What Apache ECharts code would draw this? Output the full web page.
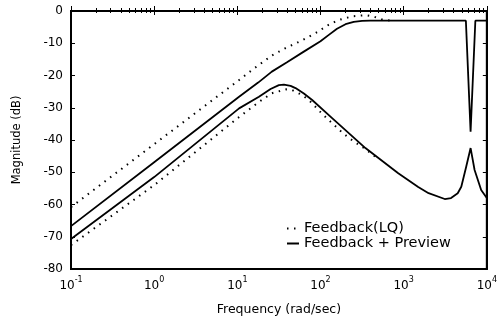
<!DOCTYPE html>
<html>
<head>
<meta charset="utf-8">
<script src="https://cdn.jsdelivr.net/npm/echarts@6/dist/echarts.min.js"></script>
<style>
  html, body { margin: 0; padding: 0; background: #fff; }
  #chart { width: 500px; height: 323px; }
</style>
</head>
<body>
<div id="chart"></div>
<script>
// frequencies in rad/sec, magnitudes in dB
const FREQ_LQ_UPPER = [0.1, 1, 10.5, 15, 26, 38, 58, 88, 125, 165, 200, 250, 355, 445, 560, 710];
const DB_LQ_UPPER = [-60.8, -41.3, -21.4, -18.3, -13.8, -11.5, -9.3, -6.8, -4.3, -2.8, -2.2, -1.6, -1.3, -1.8, -2.7, -3.0];

const FREQ_PV_UPPER = [0.1, 1, 10.5, 17.8, 26, 40, 63, 100, 126, 158, 200, 251, 316, 398, 5600, 6380, 7280, 10000];
const DB_PV_UPPER = [-66.7, -46.9, -26.6, -22.2, -18.8, -15.8, -12.6, -9.4, -7.4, -5.5, -4.1, -3.4, -3.05, -3.0, -3.0, -37.4, -3.0, -3.0];

const FREQ_PV_LOWER = [0.1, 1, 10.5, 18.2, 25.1, 31.6, 36.3, 43.7, 50.1, 63.1, 79.4, 138, 347, 861, 1496, 1995,
  3119, 3715, 4467, 4932, 5649, 6383, 7129, 8551, 10000];
const DB_PV_LOWER = [-70.7, -51.5, -30.2, -26.6, -24.2, -23.0, -22.8, -23.2, -23.9, -25.6, -27.6, -33.2, -42.5, -50.3, -54.6, -56.5,
  -58.3, -58.0, -56.5, -54.5, -48.3, -42.5, -49.3, -55.5, -58.0];

const FREQ_LQ_LOWER = [0.1, 1, 10, 18.2, 26, 38.4, 45.3, 59.6, 72.4, 103, 125, 151, 184, 229, 279, 347, 501];
const DB_LQ_LOWER = [-72.6, -54.0, -33.3, -28.2, -25.5, -24.3, -24.5, -26.0, -27.6, -31.7, -33.8, -35.7, -37.8, -39.7, -41.2, -42.8, -46.0];

const Y_TICKS = [-80, -70, -60, -50, -40, -30, -20, -10, 0];
const NAME_LQ = 'Feedback(LQ)';
const NAME_PV = 'Feedback + Preview';

const FONT = "'DejaVu Sans', 'Liberation Sans', Arial, sans-serif";

const zip = (xs, ys) => xs.map((x, i) => [x, ys[i]]);

// minor tick positions 2..9 in each decade
const minorTicks = [];
for (let d = -1; d < 4; d++) {
  for (let k = 2; k <= 9; k++) minorTicks.push(k * Math.pow(10, d));
}

const chart = echarts.init(document.getElementById('chart'), null, { renderer: 'canvas' });

const dotted = { color: '#000', width: 2, type: [1.5, 5.5], cap: 'butt' };
const solid = { color: '#000', width: 1.8, type: 'solid' };

const logAxis = (extra) => Object.assign({
  type: 'log',
  logBase: 10,
  min: 0.1,
  max: 10000,
  gridIndex: 0,
  splitLine: { show: false },
  axisLine: { show: true, lineStyle: { color: '#000', width: 2 } }
}, extra);

const option = {
  backgroundColor: '#fff',
  animation: false,
  grid: {
    left: 71, right: 11, top: 11, bottom: 54,
    show: true, borderColor: '#000', borderWidth: 2, backgroundColor: 'transparent'
  },
  legend: {
    orient: 'vertical',
    left: 281,
    top: 216,
    itemWidth: 12,
    itemHeight: 10,
    itemGap: 0,
    data: [NAME_LQ, NAME_PV],
    // hide the round marker, keep only the line sample
    itemStyle: { color: 'rgba(0,0,0,0)', borderColor: 'rgba(0,0,0,0)', borderWidth: 0, opacity: 0 },
    textStyle: { color: '#000', fontSize: 14.5, fontFamily: FONT, lineHeight: 15 }
  },
  xAxis: [
    logAxis({
      position: 'bottom',
      name: 'Frequency (rad/sec)',
      nameLocation: 'middle',
      nameGap: 34,
      nameTextStyle: { color: '#000', fontSize: 12.5, fontFamily: FONT },
      axisTick: { show: true, inside: true, length: 5, lineStyle: { color: '#000' } },
      axisLabel: {
        show: true,
        margin: 7,
        showMinLabel: true,
        showMaxLabel: true,
        formatter: (v) => '{b|10}{s|' + Math.round(Math.log10(v)) + '}',
        rich: {
          b: { fontSize: 12, fontFamily: FONT, color: '#000', lineHeight: 16, verticalAlign: 'bottom' },
          s: { fontSize: 8, fontFamily: FONT, color: '#000', lineHeight: 6, verticalAlign: 'top' }
        }
      }
    }),
    logAxis({
      position: 'bottom',
      axisLine: { show: false },
      axisLabel: { show: false },
      axisTick: { show: true, inside: true, length: 3, customValues: minorTicks, lineStyle: { color: '#000' } }
    }),
    logAxis({
      position: 'top',
      axisLabel: { show: false },
      axisTick: { show: true, inside: true, length: 4, lineStyle: { color: '#000' } }
    }),
    logAxis({
      position: 'top',
      axisLine: { show: false },
      axisLabel: { show: false },
      axisTick: { show: true, inside: true, length: 2, customValues: minorTicks, lineStyle: { color: '#000' } }
    })
  ],
  yAxis: [
    {
      type: 'value',
      position: 'left',
      min: -80,
      max: 0,
      interval: 10,
      name: 'Magnitude (dB)',
      nameLocation: 'middle',
      nameRotate: 90,
      nameGap: 48,
      nameTextStyle: { color: '#000', fontSize: 11.5, fontFamily: FONT },
      splitLine: { show: false },
      axisLine: { show: true, lineStyle: { color: '#000', width: 2 } },
      axisTick: { show: true, inside: true, length: 4, lineStyle: { color: '#000' } },
      axisLabel: {
        color: '#000', fontSize: 12, fontFamily: FONT, margin: 8,
        customValues: Y_TICKS
      }
    },
    {
      type: 'value',
      position: 'right',
      min: -80,
      max: 0,
      interval: 10,
      splitLine: { show: false },
      axisLine: { show: true, lineStyle: { color: '#000', width: 2 } },
      axisTick: { show: true, inside: true, length: 4, lineStyle: { color: '#000' } },
      axisLabel: { show: false }
    }
  ],
  series: [
    {
      name: NAME_LQ, type: 'line', symbol: 'none', xAxisIndex: 0, yAxisIndex: 0,
      lineStyle: dotted, itemStyle: { color: '#000' },
      data: zip(FREQ_LQ_UPPER, DB_LQ_UPPER)
    },
    {
      name: NAME_LQ, type: 'line', symbol: 'none', xAxisIndex: 0, yAxisIndex: 0,
      lineStyle: dotted, itemStyle: { color: '#000' },
      data: zip(FREQ_LQ_LOWER, DB_LQ_LOWER)
    },
    {
      name: NAME_PV, type: 'line', symbol: 'none', xAxisIndex: 0, yAxisIndex: 0,
      lineStyle: solid, itemStyle: { color: '#000' },
      data: zip(FREQ_PV_UPPER, DB_PV_UPPER)
    },
    {
      name: NAME_PV, type: 'line', symbol: 'none', xAxisIndex: 0, yAxisIndex: 0,
      lineStyle: solid, itemStyle: { color: '#000' },
      data: zip(FREQ_PV_LOWER, DB_PV_LOWER)
    }
  ]
};

chart.setOption(option);
</script>
</body>
</html>
